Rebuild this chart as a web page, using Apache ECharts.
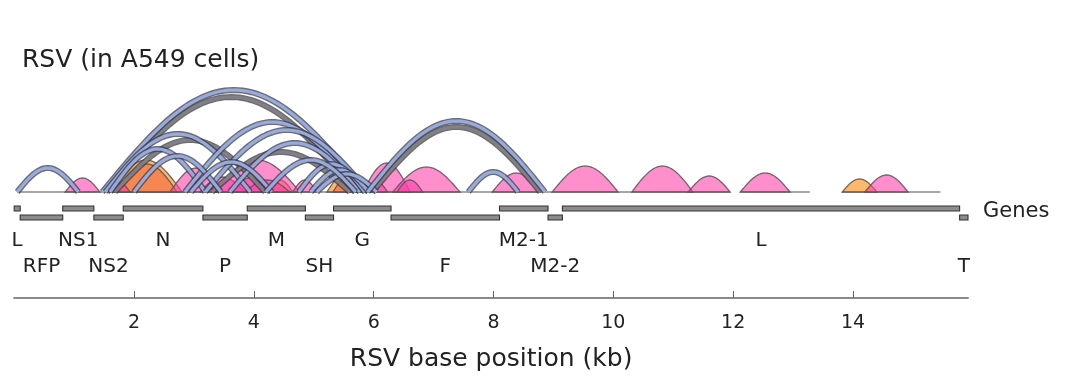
<!DOCTYPE html>
<html>
<head>
<meta charset="utf-8">
<script src="https://cdn.jsdelivr.net/npm/echarts@6/dist/echarts.min.js"></script>
<style>
html,body{margin:0;padding:0;background:#fff;}
#chart{width:1071px;height:382px;}
</style>
</head>
<body>
<div id="chart"></div>
<script>
// ---------- data (kb positions, arc heights) ----------
const tickValues = [2, 4, 6, 8, 10, 12, 14];

const geneNames = ['L', 'RFP', 'NS1', 'NS2', 'N', 'P', 'M', 'SH', 'G', 'F', 'M2-1', 'M2-2', 'L', 'T'];
const geneStart = [0.00, 0.10, 0.81, 1.33, 1.82, 3.15, 3.89, 4.86, 5.33, 6.29, 8.10, 8.91, 9.15, 15.78];
const geneEnd   = [0.10, 0.81, 1.33, 1.82, 3.15, 3.89, 4.86, 5.33, 6.29, 8.10, 8.91, 9.15, 15.78, 15.92];
const geneRow   = [0, 1, 0, 1, 0, 1, 0, 1, 0, 1, 0, 1, 0, 1];

// [start kb, end kb, height]
const pinkArcs = [
  [0.85, 1.43, 14], [1.60, 1.93, 9], [2.60, 3.47, 24], [3.10, 3.85, 15],
  [3.35, 4.77, 32], [3.60, 4.27, 14], [3.85, 4.60, 12], [4.65, 5.05, 12],
  [5.82, 6.61, 29], [5.89, 6.23, 10], [6.32, 7.44, 25], [6.39, 6.82, 12],
  [7.98, 8.78, 19], [8.98, 10.08, 26], [10.31, 11.33, 26], [11.25, 11.95, 16],
  [12.12, 12.95, 19], [14.20, 14.92, 17]
];
const orangeArcs = [
  [1.60, 2.80, 32], [4.22, 4.65, 12], [5.22, 5.89, 20], [13.82, 14.40, 13]
];
const coralArcs = [
  [1.70, 2.72, 28], [5.32, 5.81, 15]
];
const blueArcs = [
  [0.05, 1.07, 24], [1.47, 5.86, 102], [1.52, 3.94, 58], [1.60, 3.19, 43],
  [2.85, 5.77, 70], [3.19, 5.91, 62], [3.60, 5.77, 49], [2.00, 3.45, 36],
  [2.95, 4.30, 30], [4.75, 5.85, 28], [4.95, 5.92, 22], [5.05, 6.05, 18],
  [5.90, 8.86, 71], [7.58, 8.41, 20], [4.20, 5.70, 32]
];
const grayArcs = [
  [1.55, 5.69, 95], [1.68, 4.19, 52], [5.98, 8.78, 65], [3.30, 5.60, 40]
];
const baselineSegments = [[0.05, 11.95], [12.12, 13.28], [13.82, 15.46]];

// ---------- layout constants ----------
const X_MAX = 15.92;
const BASE = 106;        // arc baseline (value units)
const ROW_Y = [89.5, 80.5];
const LABEL_Y = [57, 31];
const FONT = '"DejaVu Sans", sans-serif';

function arcPoints(api, s, e, h) {
  const pts = [];
  const N = 60;
  for (let i = 0; i <= N; i++) {
    const t = i / N;
    pts.push(api.coord([s + (e - s) * t, BASE + h * Math.sin(Math.PI * t)]));
  }
  return pts;
}

function fillSeries(data, fill) {
  return {
    type: 'custom', data: data, clip: false, silent: true,
    encode: { x: [0, 1], y: 2 },
    renderItem: function (params, api) {
      return {
        type: 'polygon',
        shape: { points: arcPoints(api, api.value(0), api.value(1), api.value(2)) },
        style: { fill: fill, stroke: 'rgba(85,85,85,0.85)', lineWidth: 1.3 }
      };
    }
  };
}

function bandSeries(data, inner) {
  return {
    type: 'custom', data: data, clip: false, silent: true,
    encode: { x: [0, 1], y: 2 },
    renderItem: function (params, api) {
      const pts = arcPoints(api, api.value(0), api.value(1), api.value(2));
      return {
        type: 'group',
        children: [
          { type: 'polyline', shape: { points: pts }, style: { stroke: 'rgba(60,60,70,0.75)', lineWidth: 6, fill: null, lineCap: 'butt' } },
          { type: 'polyline', shape: { points: pts }, style: { stroke: inner, lineWidth: 3.2, fill: null, lineCap: 'butt' } }
        ]
      };
    }
  };
}

const geneData = geneNames.map((n, i) => [geneStart[i], geneEnd[i], geneRow[i]]);

const chart = echarts.init(document.getElementById('chart'), null, { renderer: 'canvas' });
chart.setOption({
  animation: false,
  backgroundColor: '#ffffff',
  grid: { left: 14.2, right: 103, top: 80, bottom: 84 },
  xAxis: {
    type: 'value', min: 0, max: X_MAX, interval: 2,
    splitLine: { show: false },
    axisLine: { show: true, lineStyle: { color: '#8a8a8a', width: 2 } },
    axisTick: { show: true, inside: true, length: 7, lineStyle: { color: '#666', width: 1 }, customValues: tickValues },
    axisLabel: { show: true, customValues: tickValues, color: '#222', fontSize: 19, fontFamily: FONT, margin: 16 },
    name: 'RSV base position (kb)', nameLocation: 'middle', nameGap: 49,
    nameTextStyle: { color: '#222', fontSize: 25, fontFamily: FONT }
  },
  yAxis: { type: 'value', min: 0, max: 218, show: false },
  graphic: [
    { type: 'text', x: 22, y: 60, style: { text: 'RSV (in A549 cells)', fill: '#222', font: '25px ' + FONT, verticalAlign: 'middle' } },
    { type: 'text', x: 983, y: 212, style: { text: 'Genes', fill: '#222', font: '21px ' + FONT, verticalAlign: 'middle' } }
  ],
  series: [
    {
      type: 'custom', data: baselineSegments, clip: false, silent: true,
      encode: { x: [0, 1] },
      renderItem: function (params, api) {
        const a = api.coord([api.value(0), BASE]);
        const b = api.coord([api.value(1), BASE]);
        return { type: 'line', shape: { x1: a[0], y1: a[1], x2: b[0], y2: b[1] }, style: { stroke: '#8a8a8a', lineWidth: 1.6 } };
      }
    },
    fillSeries(orangeArcs, 'rgba(255,140,20,0.62)'),
    fillSeries(coralArcs, 'rgba(240,95,60,0.55)'),
    fillSeries(pinkArcs, 'rgba(255,60,168,0.58)'),
    bandSeries(grayArcs, 'rgba(130,130,135,0.95)'),
    bandSeries(blueArcs, 'rgba(155,175,228,0.95)'),
    {
      type: 'custom', data: geneData, clip: false, silent: true,
      encode: { x: [0, 1] },
      renderItem: function (params, api) {
        const row = api.value(2);
        const a = api.coord([api.value(0), ROW_Y[row]]);
        const b = api.coord([api.value(1), ROW_Y[row]]);
        const lab = api.coord([(api.value(0) + api.value(1)) / 2, LABEL_Y[row]]);
        return {
          type: 'group',
          children: [
            { type: 'rect', shape: { x: a[0], y: a[1] - 2.5, width: b[0] - a[0], height: 5 },
              style: { fill: '#8c8c8c', stroke: '#333', lineWidth: 1.1 } },
            { type: 'text', x: lab[0], y: lab[1],
              style: { text: geneNames[params.dataIndex], fill: '#222', font: '20px ' + FONT, align: 'center', verticalAlign: 'middle' } }
          ]
        };
      }
    }
  ]
});
</script>
</body>
</html>
